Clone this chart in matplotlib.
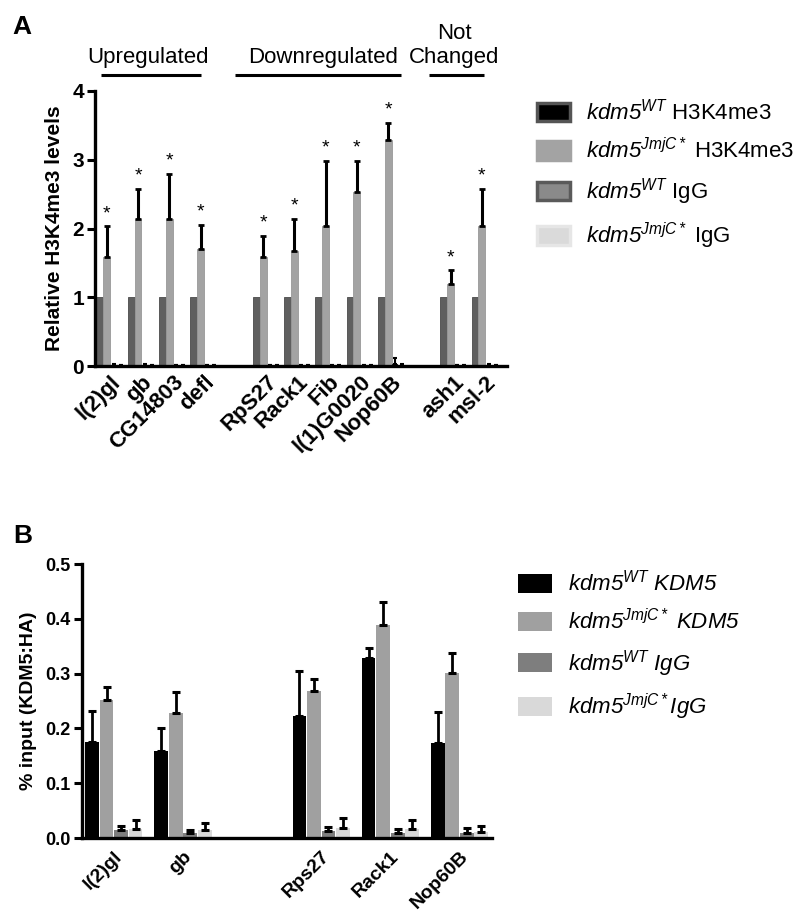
import numpy as np
import matplotlib
matplotlib.use("Agg")
import matplotlib.pyplot as plt
from matplotlib.patches import Patch
import matplotlib.transforms as mtransforms

plt.rcParams['font.family'] = ['Liberation Sans', 'DejaVu Sans']
# mathtext is only used for the italic genotype labels, so digits go italic too
plt.rcParams['mathtext.fontset'] = 'custom'
plt.rcParams['mathtext.rm'] = 'Liberation Sans:italic'
plt.rcParams['mathtext.it'] = 'Liberation Sans:italic'
plt.rcParams['mathtext.bf'] = 'Liberation Sans:bold'

# ---- Panel A data: relative H3K4me3 levels ----
genes_a = ['l(2)gl', 'gb', 'CG14803', 'defl', 'RpS27', 'Rack1', 'Fib',
           'l(1)G0020', 'Nop60B', 'ash1', 'msl-2']
pos_a = [0, 1, 2, 3, 5, 6, 7, 8, 9, 11, 12]
wt_h3 = [1, 1, 1, 1, 1, 1, 1, 1, 1, 1, 1]
jmj_h3 = [1.58, 2.14, 2.14, 1.70, 1.58, 1.67, 2.04, 2.53, 3.29, 1.20, 2.03]
jmj_h3_err = [0.45, 0.44, 0.65, 0.35, 0.31, 0.47, 0.94, 0.45, 0.25, 0.19, 0.55]
wt_igg_a = [0.02, 0.02, 0.01, 0.01, 0.01, 0.01, 0.01, 0.01, 0.03, 0.01, 0.02]
wt_igg_a_err = [0.01, 0.01, 0.0, 0.0, 0.0, 0.01, 0.0, 0.0, 0.09, 0.0, 0.01]
jmj_igg_a = [0.01, 0.01, 0.01, 0.01, 0.01, 0.01, 0.01, 0.01, 0.02, 0.01, 0.02]
jmj_igg_a_err = [0.0, 0.0, 0.0, 0.0, 0.0, 0.0, 0.0, 0.0, 0.01, 0.0, 0.0]

groups_a = ['Upregulated', 'Downregulated', 'Not\nChanged']
group_text_x = [1.22, 6.8, 11.0]
group_line_span = [(-0.3, 2.9), (4.0, 9.3), (10.2, 11.95)]

# ---- Panel B data: % input (KDM5:HA) ----
genes_b = ['l(2)gl', 'gb', 'Rps27', 'Rack1', 'Nop60B']
pos_b = [0, 1, 3, 4, 5]
wt_kdm5 = [0.176, 0.159, 0.222, 0.329, 0.173]
wt_kdm5_err = [0.055, 0.041, 0.082, 0.018, 0.057]
jmj_kdm5 = [0.252, 0.229, 0.269, 0.389, 0.301]
jmj_kdm5_err = [0.023, 0.037, 0.021, 0.041, 0.037]
wt_igg_b = [0.015, 0.010, 0.013, 0.010, 0.009]
wt_igg_b_err = [0.007, 0.005, 0.007, 0.006, 0.010]
jmj_igg_b = [0.017, 0.015, 0.019, 0.017, 0.011]
jmj_igg_b_err = [0.016, 0.012, 0.017, 0.015, 0.011]

fig = plt.figure(figsize=(8, 9.21), dpi=100)

# ================= Panel A =================
ax = fig.add_axes([0.119, 0.6026, 0.515, 0.2986])
w = 0.22
x = np.array(pos_a, dtype=float)
ax.bar(x - 1.5 * w, wt_h3, w, color='#5f5f5f', edgecolor='#4a4a4a', lw=0.6)
ax.bar(x - 0.5 * w, jmj_h3, w, color='#a3a3a3', edgecolor='#999999', lw=0.6,
       yerr=[np.zeros(len(x)), jmj_h3_err], error_kw=dict(ecolor='black', elinewidth=2.2, capsize=2.2, capthick=2))
ax.bar(x + 0.5 * w, wt_igg_a, w, color='#222222',
       yerr=[np.zeros(len(x)), wt_igg_a_err], error_kw=dict(ecolor='black', elinewidth=1.5, capsize=1.5, capthick=1.5))
ax.bar(x + 1.5 * w, jmj_igg_a, w, color='#333333',
       yerr=[np.zeros(len(x)), jmj_igg_a_err], error_kw=dict(ecolor='black', elinewidth=1.5, capsize=1.5, capthick=1.5))

for xi, v, e in zip(x, jmj_h3, jmj_h3_err):
    ax.text(xi - 0.5 * w, v + e + 0.12, '*', ha='center', va='baseline', fontsize=14)

ax.set_xlim(-0.48, 12.7)
ax.set_ylim(0, 4)
ax.set_yticks([0, 1, 2, 3, 4])
ax.set_xticks(pos_a)
ax.set_xticklabels(genes_a, rotation=45, ha='right', rotation_mode='anchor',
                   fontsize=16, fontweight='bold')
ax.tick_params(axis='x', length=0, pad=4)
ax.tick_params(axis='y', length=6, width=2.2, labelsize=15, pad=2)
for lab in ax.get_yticklabels():
    lab.set_fontweight('bold')
ax.set_ylabel('Relative H3K4me3 levels', fontsize=15, fontweight='bold', labelpad=6)
for s in ['top', 'right']:
    ax.spines[s].set_visible(False)
for s in ['left', 'bottom']:
    ax.spines[s].set_linewidth(2.4)

trans = mtransforms.blended_transform_factory(ax.transData, ax.transAxes)
for name, tx, (x0, x1) in zip(groups_a, group_text_x, group_line_span):
    ax.text(tx, 1.085, name, transform=trans, ha='center', va='bottom',
            fontsize=16, linespacing=1.15, clip_on=False)
    ax.plot([x0, x1], [1.058, 1.058], transform=trans, color='black', lw=2.2,
            clip_on=False, solid_capstyle='butt')

handles_a = [Patch(facecolor='#000000', edgecolor='#555555', lw=2.5),
             Patch(facecolor='#a3a3a3', edgecolor='#a3a3a3', lw=2.5),
             Patch(facecolor='#8a8a8a', edgecolor='#5a5a5a', lw=2.5),
             Patch(facecolor='#dadada', edgecolor='#e6e6e6', lw=2.5)]
labels_a = [r'$kdm5^{WT}$ H3K4me3',
            r'$kdm5^{JmjC*}$ H3K4me3',
            r'$kdm5^{WT}$ IgG',
            r'$kdm5^{JmjC*}$ IgG']
ax.legend(handles_a, labels_a, loc='upper left', bbox_to_anchor=(0.671, 0.893),
          bbox_transform=fig.transFigure, frameon=False, fontsize=16,
          handlelength=1.5, handleheight=0.9, handletextpad=0.7,
          labelspacing=0.6, borderpad=0, borderaxespad=0)

fig.text(0.016, 0.963, 'A', fontsize=19, fontweight='bold', va='baseline')

# ================= Panel B =================
bx = fig.add_axes([0.1025, 0.0901, 0.5125, 0.2975])
wb = 0.21
xb = np.array(pos_b, dtype=float)
ekw = dict(ecolor='black', elinewidth=2, capsize=3, capthick=2.2)
bx.bar(xb - 1.5 * wb, wt_kdm5, 0.2, color='black',
       yerr=[np.zeros(len(xb)), wt_kdm5_err], error_kw=ekw)
bx.bar(xb - 0.5 * wb, jmj_kdm5, 0.2, color='#a0a0a0',
       yerr=[np.zeros(len(xb)), jmj_kdm5_err], error_kw=ekw)
bx.bar(xb + 0.5 * wb, wt_igg_b, 0.2, color='#7e7e7e',
       yerr=[np.zeros(len(xb)), wt_igg_b_err], error_kw=ekw)
bx.bar(xb + 1.5 * wb, jmj_igg_b, 0.2, color='#d9d9d9',
       yerr=[np.zeros(len(xb)), jmj_igg_b_err], error_kw=ekw)

bx.set_xlim(-0.46, 5.47)
bx.set_ylim(0, 0.5)
bx.set_yticks([0.0, 0.1, 0.2, 0.3, 0.4, 0.5])
bx.set_yticklabels(['0.0', '0.1', '0.2', '0.3', '0.4', '0.5'])
bx.set_xticks(pos_b)
bx.set_xticklabels(genes_b, rotation=45, ha='right', rotation_mode='anchor',
                   fontsize=14, fontweight='bold')
bx.tick_params(axis='x', length=0, pad=7)
bx.tick_params(axis='y', length=6, width=2.2, labelsize=13, pad=2)
for lab in bx.get_yticklabels():
    lab.set_fontweight('bold')
bx.set_ylabel('% input (KDM5:HA)', fontsize=14, fontweight='bold', labelpad=6)
for s in ['top', 'right']:
    bx.spines[s].set_visible(False)
for s in ['left', 'bottom']:
    bx.spines[s].set_linewidth(2.4)

handles_b = [Patch(facecolor='#000000'), Patch(facecolor='#a0a0a0'),
             Patch(facecolor='#7e7e7e'), Patch(facecolor='#d9d9d9')]
labels_b = [r'$kdm5^{WT}\ KDM5$',
            r'$kdm5^{JmjC*}\ KDM5$',
            r'$kdm5^{WT}\ IgG$',
            r'$kdm5^{JmjC*}IgG$']
bx.legend(handles_b, labels_b, loc='upper left', bbox_to_anchor=(0.6475, 0.381),
          bbox_transform=fig.transFigure, frameon=False, fontsize=16,
          handlelength=1.55, handleheight=0.95, handletextpad=0.7,
          labelspacing=0.6, borderpad=0, borderaxespad=0)

fig.text(0.017, 0.41, 'B', fontsize=19, fontweight='bold', va='baseline')

plt.savefig('out.png', dpi=100)
